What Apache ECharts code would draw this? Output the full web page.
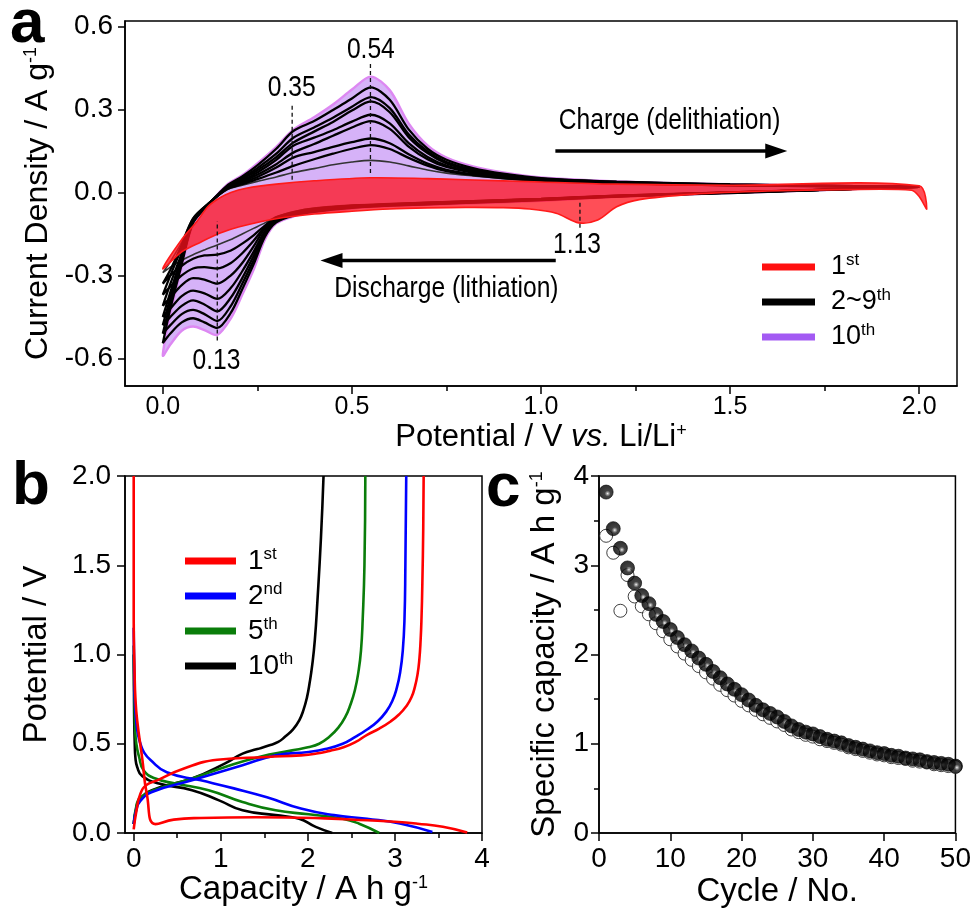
<!DOCTYPE html>
<html>
<head>
<meta charset="utf-8">
<script src="https://cdn.jsdelivr.net/npm/echarts@6/dist/echarts.min.js"></script>
<style>
html,body{margin:0;padding:0;background:#fff}
#chart{width:974px;height:913px}
</style>
</head>
<body>
<div id="chart"></div>
<script>
// ---------- panel a : CV, potential grids ----------
const cvDownV = [0, 0.02, 0.05, 0.08, 0.11, 0.144, 0.18, 0.21, 0.24, 0.27, 0.3, 0.35, 0.4, 0.5, 0.6, 0.8, 1.0, 1.2, 1.5, 2.0];
const cvUpV = [0, 0.02, 0.05, 0.08, 0.12, 0.17, 0.21, 0.25, 0.3, 0.345, 0.4, 0.45, 0.5, 0.55, 0.6, 0.65, 0.7, 0.75, 0.82, 0.9, 1.0, 1.2, 1.5, 2.0];

// cathodic (lithiation) branches, A/g, on cvDownV
const cyc2Down = [-0.29,-0.27,-0.245,-0.225,-0.208,-0.19,-0.17,-0.15,-0.13,-0.11,-0.088,-0.068,-0.056,-0.046,-0.04,-0.031,-0.022,-0.011,0,0.02];
const cyc3Down = [-0.33,-0.3,-0.265,-0.24,-0.228,-0.225,-0.21,-0.185,-0.155,-0.12,-0.09,-0.07,-0.059,-0.048,-0.042,-0.032,-0.023,-0.012,0,0.02];
const cyc4Down = [-0.37,-0.34,-0.3,-0.275,-0.27,-0.275,-0.255,-0.22,-0.175,-0.125,-0.092,-0.072,-0.06,-0.049,-0.043,-0.033,-0.024,-0.012,0,0.02];
const cyc5Down = [-0.41,-0.38,-0.335,-0.31,-0.315,-0.33,-0.3,-0.255,-0.195,-0.13,-0.094,-0.074,-0.062,-0.05,-0.044,-0.034,-0.024,-0.013,0,0.02];
const cyc6Down = [-0.45,-0.42,-0.375,-0.355,-0.365,-0.385,-0.345,-0.285,-0.215,-0.14,-0.097,-0.076,-0.064,-0.052,-0.045,-0.035,-0.025,-0.013,-0.001,0.02];
const cyc7Down = [-0.48,-0.45,-0.41,-0.39,-0.405,-0.43,-0.38,-0.31,-0.23,-0.145,-0.1,-0.078,-0.066,-0.053,-0.046,-0.036,-0.026,-0.014,-0.001,0.02];
const cyc8Down = [-0.51,-0.48,-0.44,-0.425,-0.44,-0.465,-0.41,-0.33,-0.245,-0.15,-0.104,-0.08,-0.068,-0.054,-0.047,-0.037,-0.027,-0.014,-0.001,0.02];
const cyc9Down = [-0.545,-0.51,-0.47,-0.455,-0.47,-0.49,-0.435,-0.35,-0.26,-0.16,-0.108,-0.082,-0.07,-0.056,-0.048,-0.038,-0.028,-0.015,-0.002,0.02];
const cyc10Down = [-0.59,-0.55,-0.50,-0.485,-0.498,-0.515,-0.455,-0.37,-0.28,-0.17,-0.112,-0.085,-0.072,-0.058,-0.05,-0.04,-0.03,-0.016,-0.002,0.02];

// anodic (delithiation) branches, A/g, on cvUpV
const cyc2Up = [-0.29,-0.25,-0.18,-0.092,-0.04,0.01,0.026,0.04,0.056,0.072,0.086,0.1,0.11,0.116,0.11,0.096,0.081,0.07,0.06,0.05,0.04,0.032,0.025,0.02];
const cyc3Up = [-0.33,-0.28,-0.19,-0.095,-0.041,0.012,0.03,0.048,0.072,0.096,0.12,0.14,0.158,0.171,0.157,0.125,0.097,0.077,0.063,0.052,0.042,0.033,0.026,0.02];
const cyc4Up = [-0.37,-0.30,-0.20,-0.098,-0.042,0.014,0.034,0.056,0.09,0.126,0.146,0.165,0.182,0.195,0.178,0.138,0.104,0.082,0.066,0.054,0.044,0.034,0.026,0.02];
const cyc5Up = [-0.41,-0.33,-0.22,-0.10,-0.043,0.016,0.038,0.064,0.102,0.144,0.175,0.205,0.235,0.258,0.23,0.166,0.12,0.092,0.072,0.058,0.046,0.035,0.027,0.02];
const cyc6Up = [-0.45,-0.36,-0.23,-0.10,-0.043,0.018,0.042,0.072,0.118,0.169,0.198,0.225,0.256,0.281,0.25,0.178,0.128,0.097,0.075,0.06,0.047,0.036,0.027,0.02];
const cyc7Up = [-0.48,-0.38,-0.24,-0.105,-0.045,0.02,0.048,0.08,0.128,0.18,0.22,0.255,0.296,0.329,0.29,0.2,0.142,0.105,0.08,0.063,0.049,0.037,0.028,0.02];
const cyc8Up = [-0.51,-0.40,-0.25,-0.108,-0.045,0.022,0.052,0.088,0.14,0.198,0.235,0.27,0.31,0.345,0.305,0.21,0.148,0.11,0.083,0.065,0.05,0.038,0.028,0.02];
const cyc9Up = [-0.545,-0.42,-0.26,-0.11,-0.045,0.025,0.058,0.098,0.158,0.222,0.258,0.298,0.34,0.38,0.335,0.228,0.158,0.118,0.088,0.068,0.052,0.039,0.029,0.02];
const cyc10Up = [-0.59,-0.44,-0.27,-0.115,-0.045,0.028,0.062,0.105,0.165,0.227,0.272,0.318,0.372,0.419,0.37,0.25,0.17,0.126,0.094,0.072,0.054,0.04,0.03,0.02];

// first cycle has its own potential points
const cyc1DownV = [0, 0.05, 0.1, 0.15, 0.2, 0.3, 0.4, 0.5, 0.6, 0.7, 0.8, 0.9, 0.97, 1.04, 1.1, 1.15, 1.2, 1.26, 1.4, 1.6, 1.8, 1.98, 2.0, 2.02];
const cyc1Down = [-0.276,-0.215,-0.18,-0.148,-0.125,-0.095,-0.078,-0.068,-0.06,-0.056,-0.054,-0.055,-0.06,-0.075,-0.11,-0.1,-0.052,-0.026,-0.007,0.005,0.01,0.008,-0.015,-0.06];
const cyc1UpV = [0, 0.05, 0.09, 0.12, 0.15, 0.18, 0.22, 0.3, 0.4, 0.55, 0.7, 0.8, 1.0, 1.2, 1.5, 2.0];
const cyc1Up = [-0.276,-0.17,-0.105,-0.05,-0.02,0.0,0.015,0.03,0.042,0.053,0.05,0.046,0.038,0.03,0.026,0.024];

// peak markers and captions
const peakText = ['0.54', '0.35', '0.13', '1.13'];
const peakLineV = [0.549, 0.342, 0.144, 1.103];
const peakLineTop = [0.465, 0.321, -0.104, -0.032];
const peakLineBottom = [0.07, 0.046, -0.535, -0.128];
const peakTextPos = [[0.55, 0.515], [0.341, 0.378], [0.142, -0.61], [1.095, -0.19]];
const captionText = ['Charge (delithiation)', 'Discharge (lithiation)'];
const captionPos = [[1.34, 0.258], [0.75, -0.35]];
const arrowFrom = [[1.038, 0.15], [1.039, -0.246]];
const arrowTo = [[1.622, 0.15], [0.446, -0.246]];
const arrowRotate = [-90, 90];

const cvLegendBase = ['1', '2~9', '10'];
const cvLegendSup = ['st', 'th', 'th'];

// ---------- panel b : charge/discharge profiles ----------
const gcdNames = ['1st', '2nd', '5th', '10th'];
const gcdBase = ['1', '2', '5', '10'];
const gcdSup = ['st', 'nd', 'th', 'th'];
const gcdColors = ['#ff0000', '#0000ff', '#0a7d0a', '#000000'];

const dis1Q = [0, 0, 0.01, 0.02, 0.04, 0.1, 0.15, 0.25, 0.46, 0.77, 1.4, 2.2, 2.68, 3.0, 3.26, 3.55, 3.83];
const dis1V = [2.0, 1.2, 0.9, 0.75, 0.63, 0.41, 0.22, 0.05, 0.075, 0.084, 0.088, 0.082, 0.071, 0.063, 0.052, 0.035, 0.003];
const chg1Q = [0, 0.03, 0.077, 0.15, 0.27, 0.57, 0.96, 1.53, 1.92, 2.1, 2.25, 2.41, 2.55, 2.68, 2.82, 2.95, 3.05, 3.13, 3.19, 3.23, 3.26, 3.28, 3.295, 3.305, 3.315, 3.325, 3.33];
const chg1V = [0.02, 0.12, 0.22, 0.27, 0.295, 0.36, 0.41, 0.426, 0.435, 0.445, 0.46, 0.48, 0.51, 0.55, 0.585, 0.625, 0.665, 0.71, 0.76, 0.82, 0.89, 0.97, 1.08, 1.2, 1.4, 1.7, 2.0];

const dis2Q = [0, 0.003, 0.008, 0.015, 0.03, 0.05, 0.077, 0.12, 0.19, 0.38, 0.77, 1.15, 1.53, 1.92, 2.3, 2.68, 3.07, 3.43];
const dis2V = [1.15, 1.0, 0.85, 0.72, 0.62, 0.55, 0.5, 0.45, 0.41, 0.34, 0.295, 0.25, 0.2, 0.137, 0.1, 0.08, 0.052, 0.005];
const chg2Q = [0, 0.03, 0.077, 0.21, 0.67, 1.25, 1.63, 2.01, 2.2, 2.4, 2.55, 2.68, 2.8, 2.9, 2.97, 3.02, 3.06, 3.09, 3.11, 3.12, 3.13];
const chg2V = [0.05, 0.13, 0.18, 0.23, 0.295, 0.38, 0.435, 0.454, 0.47, 0.5, 0.54, 0.58, 0.625, 0.68, 0.74, 0.81, 0.9, 1.02, 1.2, 1.5, 2.0];

const dis5Q = [0, 0.003, 0.008, 0.015, 0.03, 0.06, 0.115, 0.25, 0.48, 0.86, 1.25, 1.63, 2.01, 2.4, 2.59, 2.82];
const dis5V = [1.05, 0.9, 0.75, 0.6, 0.5, 0.43, 0.35, 0.305, 0.277, 0.24, 0.174, 0.127, 0.105, 0.08, 0.052, 0.0];
const chg5Q = [0, 0.03, 0.077, 0.29, 0.67, 1.05, 1.44, 1.82, 2.0, 2.13, 2.25, 2.35, 2.43, 2.49, 2.54, 2.58, 2.61, 2.63, 2.65, 2.66];
const chg5V = [0.05, 0.15, 0.2, 0.25, 0.305, 0.37, 0.426, 0.463, 0.48, 0.5, 0.54, 0.59, 0.65, 0.72, 0.8, 0.9, 1.02, 1.2, 1.5, 2.0];

const dis10Q = [0, 0.003, 0.006, 0.012, 0.02, 0.04, 0.096, 0.29, 0.67, 0.98, 1.25, 1.63, 1.9, 2.09, 2.28];
const dis10V = [1.0, 0.8, 0.62, 0.5, 0.42, 0.37, 0.32, 0.277, 0.24, 0.183, 0.127, 0.1, 0.08, 0.034, 0.0];
const chg10Q = [0, 0.03, 0.06, 0.21, 0.67, 1.05, 1.25, 1.42, 1.55, 1.66, 1.74, 1.83, 1.9, 1.95, 1.99, 2.02, 2.05, 2.08, 2.11, 2.15, 2.18];
const chg10V = [0.05, 0.14, 0.18, 0.24, 0.305, 0.39, 0.445, 0.47, 0.49, 0.51, 0.54, 0.58, 0.63, 0.69, 0.76, 0.84, 0.94, 1.08, 1.3, 1.65, 2.0];

// ---------- panel c : cycling ----------
const cycleNo = [1,2,3,4,5,6,7,8,9,10,11,12,13,14,15,16,17,18,19,20,21,22,23,24,25,26,27,28,29,30,31,32,33,34,35,36,37,38,39,40,41,42,43,44,45,46,47,48,49,50];
const dischargeCap = [3.82,3.41,3.19,2.97,2.80,2.66,2.57,2.45,2.37,2.28,2.19,2.11,2.04,1.96,1.89,1.81,1.74,1.67,1.61,1.55,1.49,1.43,1.38,1.34,1.30,1.25,1.20,1.16,1.13,1.11,1.08,1.05,1.03,1.01,0.98,0.96,0.94,0.92,0.90,0.89,0.87,0.86,0.84,0.83,0.82,0.80,0.79,0.78,0.77,0.75];
const chargeCap = [3.33,3.14,2.49,2.89,2.65,2.54,2.45,2.35,2.26,2.17,2.09,2.01,1.94,1.87,1.80,1.73,1.66,1.60,1.54,1.48,1.43,1.38,1.33,1.29,1.25,1.21,1.16,1.13,1.10,1.08,1.05,1.03,1.01,0.99,0.96,0.94,0.92,0.90,0.88,0.87,0.85,0.84,0.83,0.81,0.80,0.79,0.77,0.76,0.75,0.74];

// ---------- helpers ----------
const FS = '"Liberation Sans", Arial, sans-serif';

function zip(xs, ys) { return xs.map((x, i) => [x, ys[i]]); }
function cvLoop(downV, down, upV, up) {
  const pts = [];
  for (let i = downV.length - 1; i >= 0; i--) pts.push([downV[i], down[i]]);
  for (let i = 1; i < upV.length; i++) pts.push([upV[i], up[i]]);
  return pts;
}
function fillSeries(name, pts, fill, stroke, lw, z) {
  return {
    name: name, type: 'custom', xAxisIndex: 0, yAxisIndex: 0, z: z,
    data: pts, silent: true,
    renderItem: function (params, api) {
      if (params.dataIndex !== 0) return null;
      return {
        type: 'polygon',
        shape: { points: pts.map(p => api.coord(p)), smooth: 0.3 },
        style: { fill: fill, stroke: stroke, lineWidth: lw }
      };
    }
  };
}
// condensed text placed at data coordinates (the figure uses a narrow face)
function narrowText(pos, texts, size, z) {
  return {
    type: 'custom', xAxisIndex: 0, yAxisIndex: 0, z: z, silent: true, data: pos,
    renderItem: function (params, api) {
      const p = api.coord([api.value(0), api.value(1)]);
      return { type: 'text', x: p[0], y: p[1], scaleX: 0.82,
        style: { text: texts[params.dataIndex], font: size + 'px ' + FS, fill: '#000', align: 'center', verticalAlign: 'middle' } };
    }
  };
}
const supRich = (size) => ({ s: { fontSize: size, verticalAlign: 'top', lineHeight: size, fontFamily: FS } });

const blackDown = [cyc2Down, cyc3Down, cyc4Down, cyc5Down, cyc6Down, cyc7Down, cyc8Down, cyc9Down];
const blackUp = [cyc2Up, cyc3Up, cyc4Up, cyc5Up, cyc6Up, cyc7Up, cyc8Up, cyc9Up];

const series = [];
series.push(fillSeries('10th', cvLoop(cvDownV, cyc10Down, cvUpV, cyc10Up), '#d6b2f8', '#dd88f2', 2.4, 1));
blackDown.forEach((d, k) => {
  series.push({
    name: '2~9th', type: 'line', xAxisIndex: 0, yAxisIndex: 0, z: 2,
    data: cvLoop(cvDownV, d, cvUpV, blackUp[k]),
    smooth: 0.3, showSymbol: false, symbol: 'none', silent: true,
    lineStyle: { color: k === 0 ? '#333' : '#000', width: k === 0 ? 1.6 : 2.3 },
    itemStyle: { color: '#000' }
  });
});
series.push(fillSeries('1st', cvLoop(cyc1DownV, cyc1Down, cyc1UpV, cyc1Up), 'rgba(255,16,28,0.74)', '#ff1a1a', 1.6, 3));

peakLineV.forEach((v, i) => {
  series.push({
    type: 'line', xAxisIndex: 0, yAxisIndex: 0, z: 5, silent: true,
    data: [[v, peakLineBottom[i]], [v, peakLineTop[i]]],
    showSymbol: false, symbol: 'none',
    lineStyle: { color: '#111', width: 1.3, type: [4, 3] }
  });
});
series.push(narrowText(peakTextPos, peakText, 30, 6));
series.push(narrowText(captionPos, captionText, 30, 6));
// direction arrows
arrowFrom.forEach((a, i) => {
  series.push({
    type: 'line', xAxisIndex: 0, yAxisIndex: 0, z: 6, silent: true,
    data: [{ value: a, symbol: 'none' },
           { value: arrowTo[i], symbol: 'triangle', symbolSize: [15, 22], symbolRotate: arrowRotate[i] }],
    showSymbol: true, showAllSymbol: true,
    lineStyle: { color: '#000', width: 3.5 }, itemStyle: { color: '#000' }
  });
});

// panel b lines
const disQ = [dis1Q, dis2Q, dis5Q, dis10Q], disV = [dis1V, dis2V, dis5V, dis10V];
const chgQ = [chg1Q, chg2Q, chg5Q, chg10Q], chgV = [chg1V, chg2V, chg5V, chg10V];
[3, 2, 1, 0].forEach(k => {
  [zip(disQ[k], disV[k]), zip(chgQ[k], chgV[k])].forEach(d => {
    series.push({
      name: gcdNames[k], type: 'line', xAxisIndex: 2, yAxisIndex: 1, z: 2 + (3 - k),
      data: d, smooth: 0.5, showSymbol: false, symbol: 'none', silent: true,
      lineStyle: { color: gcdColors[k], width: 2.6 }, itemStyle: { color: gcdColors[k] }
    });
  });
});

// panel c scatter
series.push({
  name: 'charge', type: 'scatter', xAxisIndex: 4, yAxisIndex: 2, z: 2, silent: true,
  data: zip(cycleNo, chargeCap), symbol: 'circle', symbolSize: 13,
  itemStyle: { color: '#fff', borderColor: '#111', borderWidth: 1 }
});
series.push({
  name: 'discharge', type: 'scatter', xAxisIndex: 4, yAxisIndex: 2, z: 3, silent: true,
  data: zip(cycleNo, dischargeCap), symbol: 'circle', symbolSize: 14,
  itemStyle: {
    color: new echarts.graphic.RadialGradient(0.6, 0.6, 0.5, [
      { offset: 0, color: '#f4f4f4' }, { offset: 0.16, color: '#8a8a8a' }, { offset: 0.4, color: '#151515' }, { offset: 1, color: '#000' }
    ]),
    borderColor: '#000', borderWidth: 0.8
  }
});

const axLine = { show: true, onZero: false, lineStyle: { color: '#000', width: 1.5 } };
const tickOut = (len, vals) => ({ show: true, inside: false, length: len, lineStyle: { color: '#000', width: 1.5 }, customValues: vals });

const option = {
  animation: false,
  backgroundColor: '#fff',
  grid: [
    { left: 125, top: 21, width: 832, height: 365, show: true, borderColor: '#000', borderWidth: 1.5, backgroundColor: 'transparent' },
    { left: 125, top: 476, width: 357, height: 357, show: true, borderColor: '#000', borderWidth: 1.5, backgroundColor: 'transparent' },
    { left: 599, top: 476, width: 357, height: 357, show: true, borderColor: '#000', borderWidth: 1.5, backgroundColor: 'transparent' }
  ],
  xAxis: [
    { type: 'value', gridIndex: 0, position: 'bottom', min: -0.1, max: 2.1, axisLine: axLine,
      axisTick: tickOut(8, [0, 0.5, 1, 1.5, 2]), splitLine: { show: false },
      axisLabel: { customValues: [0, 0.5, 1, 1.5, 2], formatter: v => v.toFixed(1), margin: 9, fontFamily: FS, fontSize: 25, color: '#000' },
      name: 'Potential / V {i|vs.} Li/Li{s|+}', nameLocation: 'middle', nameGap: 36,
      nameTextStyle: { fontFamily: FS, fontSize: 31, color: '#000',
        rich: { i: { fontStyle: 'italic', fontFamily: FS, fontSize: 31 }, s: { fontSize: 18, verticalAlign: 'top', lineHeight: 18, fontFamily: FS } } } },
    { type: 'value', gridIndex: 0, position: 'bottom', min: -0.1, max: 2.1, axisLine: { show: false, onZero: false },
      axisTick: tickOut(5, [0.25, 0.75, 1.25, 1.75]), splitLine: { show: false }, axisLabel: { show: false } },
    { type: 'value', gridIndex: 1, position: 'bottom', min: -0.1, max: 4, axisLine: axLine,
      axisTick: tickOut(8, [0, 1, 2, 3, 4]), splitLine: { show: false },
      axisLabel: { customValues: [0, 1, 2, 3, 4], margin: 12, fontFamily: FS, fontSize: 28, color: '#000' },
      name: 'Capacity / A h g{s|-1}', nameLocation: 'middle', nameGap: 40,
      nameTextStyle: { fontFamily: FS, fontSize: 33, color: '#000', rich: supRich(18) } },
    { type: 'value', gridIndex: 1, position: 'bottom', min: -0.1, max: 4, axisLine: { show: false, onZero: false },
      axisTick: tickOut(5, [0.5, 1.5, 2.5, 3.5]), splitLine: { show: false }, axisLabel: { show: false } },
    { type: 'value', gridIndex: 2, position: 'bottom', min: 0, max: 50, interval: 10, axisLine: axLine,
      axisTick: { show: true, length: 8, lineStyle: { color: '#000', width: 1.5 } }, splitLine: { show: false },
      axisLabel: { margin: 12, fontFamily: FS, fontSize: 28, color: '#000' },
      name: 'Cycle / No.', nameLocation: 'middle', nameGap: 42,
      nameTextStyle: { fontFamily: FS, fontSize: 33, color: '#000' } }
  ],
  yAxis: [
    { type: 'value', gridIndex: 0, position: 'left', min: -0.7, max: 0.62, axisLine: axLine,
      axisTick: tickOut(7, [-0.6, -0.3, 0, 0.3, 0.6]), splitLine: { show: false },
      axisLabel: { customValues: [-0.6, -0.3, 0, 0.3, 0.6], formatter: v => v.toFixed(1), margin: 12, fontFamily: FS, fontSize: 28, color: '#000' },
      name: 'Current Density / A g{s|-1}', nameLocation: 'middle', nameRotate: 90, nameGap: 70,
      nameTextStyle: { fontFamily: FS, fontSize: 32, color: '#000', rich: supRich(18) } },
    { type: 'value', gridIndex: 1, position: 'left', min: 0, max: 2, interval: 0.5, axisLine: axLine,
      axisTick: { show: true, length: 8, lineStyle: { color: '#000', width: 1.5 } }, splitLine: { show: false },
      axisLabel: { formatter: v => v.toFixed(1), margin: 14, fontFamily: FS, fontSize: 28, color: '#000' },
      name: 'Potential / V', nameLocation: 'middle', nameRotate: 90, nameGap: 72,
      nameTextStyle: { fontFamily: FS, fontSize: 33, color: '#000' } },
    { type: 'value', gridIndex: 2, position: 'left', min: 0, max: 4, interval: 1, axisLine: axLine,
      axisTick: { show: true, length: 8, lineStyle: { color: '#000', width: 1.5 } }, splitLine: { show: false },
      axisLabel: { margin: 10, fontFamily: FS, fontSize: 28, color: '#000' },
      name: 'Specific capacity / A h g{s|-1}', nameLocation: 'middle', nameRotate: 90, nameGap: 38,
      nameTextStyle: { fontFamily: FS, fontSize: 33, color: '#000', rich: supRich(18) } },
    { type: 'value', gridIndex: 2, position: 'left', min: 0, max: 4, axisLine: { show: false, onZero: false },
      axisTick: tickOut(5, [0.5, 1.5, 2.5, 3.5]), splitLine: { show: false }, axisLabel: { show: false } }
  ],
  legend: [
    { left: 757, top: 247, orient: 'vertical', icon: 'rect', itemWidth: 53, itemHeight: 7, itemGap: 5,
      selectedMode: false,
      data: [
        { name: '1st', itemStyle: { color: '#ff1010' }, lineStyle: { color: '#ff1010', width: 7 } },
        { name: '2~9th', itemStyle: { color: '#000' }, lineStyle: { color: '#000', width: 7 } },
        { name: '10th', itemStyle: { color: '#a35af3' }, lineStyle: { color: '#a35af3', width: 7 } }
      ],
      formatter: n => { const i = ['1st', '2~9th', '10th'].indexOf(n); return cvLegendBase[i] + '{s|' + cvLegendSup[i] + '}'; },
      textStyle: { fontFamily: FS, fontSize: 27, color: '#000', lineHeight: 30, padding: [0, 0, 0, 11], rich: supRich(17) } },
    { left: 180, top: 541, orient: 'vertical', icon: 'rect', itemWidth: 51, itemHeight: 7, itemGap: 5,
      selectedMode: false,
      data: gcdNames.map((n, i) => ({ name: n, itemStyle: { color: gcdColors[i] }, lineStyle: { color: gcdColors[i], width: 7 } })),
      formatter: n => { const i = gcdNames.indexOf(n); return gcdBase[i] + '{s|' + gcdSup[i] + '}'; },
      textStyle: { fontFamily: FS, fontSize: 28, color: '#000', lineHeight: 30, padding: [0, 0, 0, 7], rich: supRich(17) } }
  ],
  graphic: [
    { type: 'text', left: 10, top: -6, style: { text: 'a', font: 'bold 62px "Liberation Sans"', fill: '#000' } },
    { type: 'text', left: 12, top: 456, style: { text: 'b', font: 'bold 62px "Liberation Sans"', fill: '#000' } },
    { type: 'text', left: 486, top: 458, style: { text: 'c', font: 'bold 62px "Liberation Sans"', fill: '#000' } }
  ],
  series: series
};

const chart = echarts.init(document.getElementById('chart'), null, { renderer: 'canvas' });
chart.setOption(option);
</script>
</body>
</html>
